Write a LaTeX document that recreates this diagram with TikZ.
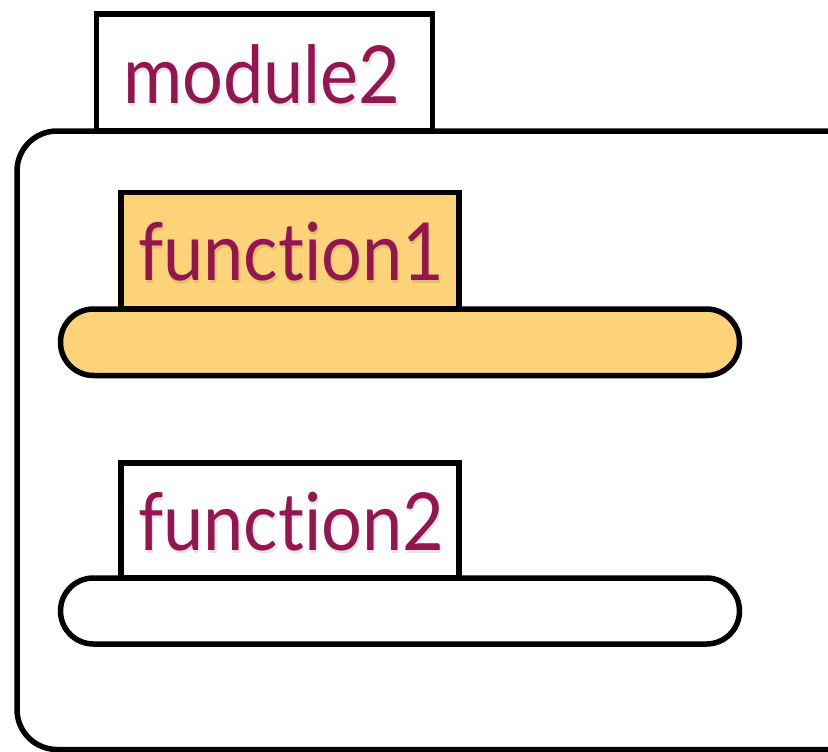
\documentclass[tikz,border=0pt]{standalone}
\usepackage{fontspec}
\setmainfont{Lato}[Ligatures=NoCommon]
\definecolor{tabfill}{HTML}{FDD37A}
\definecolor{labelred}{HTML}{931650}
\tikzset{
  frame/.style={draw=black, line width=5.5pt},
  tabbox/.style={frame, fill=white},
  hottab/.style={frame, fill=tabfill},
  label/.style={anchor=base west, inner sep=0pt, text=labelred,
    font=\fontsize{80}{80}\selectfont},
  labelshadow/.style={label, text=black, opacity=0.1},
}
\newcommand\narrow[1]{\scalebox{0.9}[1]{#1}}
% a label with a soft drop shadow beneath it
\newcommand\shadowlabel[3]{%
  \node[labelshadow] at ($(#1)+(1.5,3.5)$) {\narrow{#3}};
  \node[label] (#2) at (#1) {\narrow{#3}};
}
\usetikzlibrary{calc}
\begin{document}
\begin{tikzpicture}[x=1pt, y=-1pt]
\useasboundingbox (0,0) rectangle (828,752);
\fill[white] (0,0) rectangle (828,752);
% outer module frame, running off the right and bottom edges
\begin{scope}
  \clip (0,0) rectangle (828,752);
  \draw[frame, rounded corners=40pt] (17,131) rectangle (880,749.5);
\end{scope}
% module tab
\draw[tabbox] (96.5,14) rectangle (432.5,131);
% function1: highlighted tab and body
\draw[hottab] (121,192.5) rectangle (459,309);
\draw[hottab, rounded corners=33pt] (60.5,309) rectangle (739.5,375.5);
% function2: plain tab and body
\draw[tabbox] (121,463) rectangle (459,578);
\draw[tabbox, rounded corners=33pt] (60.5,578) rectangle (739.5,644);
% labels
\coordinate (p0) at (123,103);
\coordinate (p1) at (138,280);
\coordinate (p2) at (138,550);
\shadowlabel{p0}{modname}{module2}
\shadowlabel{p1}{fname1}{function1}
\shadowlabel{p2}{fname2}{function2}
\end{tikzpicture}
\end{document}
